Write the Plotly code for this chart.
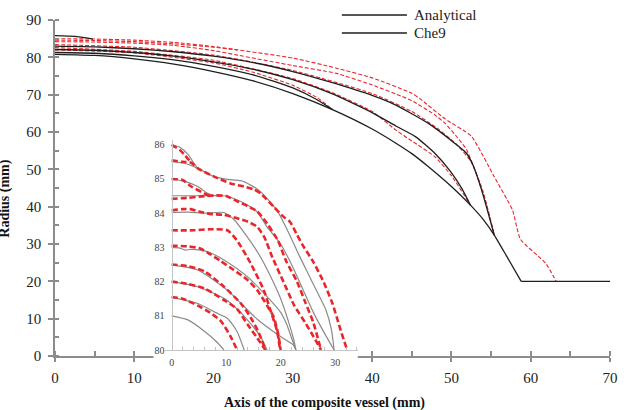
import plotly.graph_objects as go

FONT = "Liberation Serif, Times New Roman, serif"

# ---------------- main chart data (Axis x [mm], Radius y [mm]) ----------------
# Analytical (black, solid)
ana_env_x = [0, 5, 10, 15, 20, 25, 30, 35, 40, 43, 45, 47.1, 50, 52.4, 54, 55.4, 57, 58.8]
ana_env_y = [80.8, 80.5, 79.6, 78.2, 76.2, 73.7, 70.3, 66, 60.8, 57, 54.2, 50.7, 45.4, 40.4, 36.6, 32.4, 26.6, 20]
ana_flat_x = [58.8, 70]
ana_flat_y = [20, 20]
ana_b2_x = [0, 5, 10, 15, 20, 25, 30, 33, 35]
ana_b2_y = [81.3, 81.1, 80.4, 79.3, 77.6, 75.3, 71.8, 68.7, 66]
ana_b3_x = [0, 5, 10, 15, 20, 25, 30, 35, 40, 43, 45.5, 47.9, 49.9, 51.3, 52.4]
ana_b3_y = [82.1, 81.9, 81.3, 80.3, 78.8, 76.8, 74.0, 70.2, 65.2, 61.6, 58.7, 54.3, 49.4, 44.9, 40.4]
ana_b4_x = [0, 5, 10, 15, 20, 25, 30, 35, 40, 43, 47.1, 50.4, 51.9, 52.7, 53.8, 55.4]
ana_b4_y = [83.0, 82.8, 82.3, 81.5, 80.3, 78.6, 76.2, 73.2, 69.8, 67.2, 62.3, 57, 54.3, 51.2, 44.5, 32.4]
ana_b5_x = [0, 2.5, 4.8]
ana_b5_y = [85.8, 85.6, 84.9]

# Che9 (red, dashed)
che_r1_x = [0, 5, 10, 15, 20, 23, 30, 35.5, 40, 45, 46.1, 49.2, 52.5, 55.4, 57.7, 58.7, 61.9, 63.2]
che_r1_y = [84.6, 84.5, 84.2, 83.6, 82.7, 82.0, 79.8, 77.1, 74.5, 70.4, 68.8, 63.5, 58.9, 48, 39.1, 31.3, 24.8, 20]
che_r2_x = [0, 5, 10, 15, 20, 23, 30, 35.5, 40, 43.8, 45, 47.9, 49.2, 50.5, 51.9, 53.1, 54.3, 55.4]
che_r2_y = [84.2, 84.1, 83.8, 83.2, 81.8, 80.6, 77.8, 75.7, 72.6, 69.5, 68.4, 64.6, 62.3, 59.2, 55.3, 49.0, 41.5, 32.4]
che_r3_x = [0, 10, 20, 30, 40, 45, 48, 50.5, 52.5, 54, 55.4]
che_r3_y = [83.4, 82.7, 80.6, 76.5, 70.3, 65.5, 61.3, 57.0, 52.0, 44.0, 32.4]
che_r4_x = [0, 10, 20, 30, 35, 40, 43, 45, 47.9, 50, 52.4]
che_r4_y = [82.6, 81.6, 79.2, 74.3, 70.5, 65.5, 60.5, 57.6, 53.4, 48.3, 40.4]
che_r5_x = [0, 10, 20, 25, 30, 33, 35]
che_r5_y = [82.0, 81.2, 78.5, 76.0, 72.5, 69.3, 66]
che_r6_x = [0, 5, 10, 15, 20, 23]
che_r6_y = [85.0, 84.9, 84.6, 84.0, 82.9, 82.0]

# ---------------- inset data (zoom of the apex region) ----------------
ins_g86_x = [0, 1.5, 3, 4, 4.8]
ins_g86_y = [86, 85.93, 85.72, 85.48, 85.31]
ins_g855_x = [0, 2.4, 4.8, 7.8, 10.2, 12.7, 14.5, 16.3, 19.3, 21.7, 23.5, 25.9, 28.3, 29.3, 29.8]
ins_g855_y = [85.51, 85.46, 85.31, 85.07, 84.99, 84.95, 84.82, 84.63, 84.09, 83.35, 82.73, 81.95, 81.17, 80.6, 80]
ins_g85_x = [0, 2.4, 4.8, 6.6, 7.8]
ins_g85_y = [85, 84.93, 84.78, 84.58, 84.51]
ins_g845_x = [0, 4.8, 9.6, 11.4, 13.9, 15.7, 17.5, 19.9, 22, 24, 26, 28, 29.8]
ins_g845_y = [84.51, 84.51, 84.51, 84.43, 84.24, 84.04, 83.6, 83.12, 82.5, 81.8, 81.1, 80.5, 80]
ins_g84_x = [0, 3, 6, 9.6, 11.5, 13.9, 16, 18, 20, 21.5, 22.4, 22.8]
ins_g84_y = [84.02, 84.03, 84.0, 84.02, 83.8, 83.3, 82.8, 82.2, 81.5, 80.8, 80.3, 80]
ins_g83_x = [0, 1.5, 2.5, 3.5, 5, 7, 9.6, 13.9, 17.5, 20, 21.1, 22, 22.8]
ins_g83_y = [83, 82.98, 82.92, 82.94, 82.93, 82.85, 82.63, 82.14, 81.56, 81.1, 80.75, 80.35, 80]
ins_g825_x = [0, 4.8, 10.2, 15.7, 19.9, 22.3, 22.8]
ins_g825_y = [82.49, 82.34, 81.75, 80.9, 80.4, 80.15, 80]
ins_g82_x = [0, 4.8, 9.6, 12, 13.9, 16.3, 17.5]
ins_g82_y = [82, 81.85, 81.51, 81.2, 80.88, 80.39, 80]
ins_g815_x = [0, 4.8, 8, 10.2, 12, 13.3]
ins_g815_y = [81.54, 81.36, 81.1, 80.93, 80.54, 80]
ins_g81_x = [0, 3, 6, 8.2, 9.6]
ins_g81_y = [81, 80.88, 80.55, 80.25, 80]

ins_r86_x = [0, 1.5, 2.5, 3.5]
ins_r86_y = [86, 85.85, 85.68, 85.5]
ins_r8555_x = [0, 2, 3.5, 4.8, 7.8, 10.8, 13.3, 15, 16.3, 18.7, 20.5, 21.7, 22.9, 24.1, 25.9, 27.7, 29.5, 31, 32.2]
ins_r8555_y = [85.55, 85.5, 85.48, 85.31, 85.07, 84.87, 84.78, 84.7, 84.58, 84.19, 83.9, 83.75, 83.4, 83.05, 82.6, 82.05, 81.36, 80.58, 80]
ins_r85_x = [0, 2, 3.6, 6, 7.2]
ins_r85_y = [85, 84.97, 84.78, 84.58, 84.48]
ins_r844_x = [0, 3, 6, 8, 10, 12, 14, 15.7, 17.5, 19.5, 21, 23, 24.5, 26, 27.4]
ins_r844_y = [84.42, 84.45, 84.5, 84.52, 84.5, 84.35, 84.2, 84.05, 83.7, 83.2, 82.6, 82.0, 81.4, 80.8, 80]
ins_r841_x = [0, 2, 3.5, 5, 7, 9.6, 12, 14, 15.7, 17, 18.5, 20.5, 22.5, 24.5, 26, 27.4]
ins_r841_y = [84.08, 84.12, 84.12, 84.05, 83.98, 83.95, 83.85, 83.75, 83.6, 83.3, 82.7, 82.0, 81.3, 80.8, 80.4, 80]
ins_r835_x = [0, 4, 7, 10.2, 12, 14.5, 16.9, 18.1, 19.3, 19.9]
ins_r835_y = [83.5, 83.5, 83.53, 83.5, 83.2, 82.53, 81.75, 81.17, 80.58, 80]
ins_r8305_x = [0, 3, 5, 6.6, 9, 11.4, 13.9, 15.7, 17.5, 18.7, 19.5, 20]
ins_r8305_y = [83.05, 83.03, 82.98, 82.85, 82.6, 82.34, 82.05, 81.75, 81.3, 80.97, 80.5, 80]
ins_r825_x = [0, 3, 6, 9.6, 12.7, 14.5, 16, 17.2]
ins_r825_y = [82.5, 82.45, 82.3, 81.85, 81.36, 80.95, 80.5, 80]
ins_r82_x = [0, 3, 6, 9.6, 12, 13.9, 15.7, 17.2]
ins_r82_y = [82, 81.93, 81.8, 81.46, 81.2, 80.75, 80.35, 80]
ins_r8155_x = [0, 2, 4.8, 7, 9, 10.8, 12]
ins_r8155_y = [81.55, 81.5, 81.3, 81.1, 80.85, 80.4, 80]

legend_names = ["Analytical", "Che9"]
x_title = "Axis of the composite vessel (mm)"
y_title = "Radius (mm)"

main_black = [(ana_env_x, ana_env_y), (ana_flat_x, ana_flat_y), (ana_b2_x, ana_b2_y),
              (ana_b3_x, ana_b3_y), (ana_b4_x, ana_b4_y), (ana_b5_x, ana_b5_y)]
main_red = [(che_r1_x, che_r1_y), (che_r2_x, che_r2_y), (che_r3_x, che_r3_y),
            (che_r4_x, che_r4_y), (che_r5_x, che_r5_y), (che_r6_x, che_r6_y)]
inset_gray = [(ins_g86_x, ins_g86_y), (ins_g855_x, ins_g855_y), (ins_g85_x, ins_g85_y),
              (ins_g845_x, ins_g845_y), (ins_g84_x, ins_g84_y), (ins_g83_x, ins_g83_y),
              (ins_g825_x, ins_g825_y), (ins_g82_x, ins_g82_y), (ins_g815_x, ins_g815_y),
              (ins_g81_x, ins_g81_y)]
inset_red = [(ins_r86_x, ins_r86_y), (ins_r8555_x, ins_r8555_y), (ins_r85_x, ins_r85_y),
             (ins_r844_x, ins_r844_y), (ins_r841_x, ins_r841_y), (ins_r835_x, ins_r835_y),
             (ins_r8305_x, ins_r8305_y), (ins_r825_x, ins_r825_y), (ins_r82_x, ins_r82_y),
             (ins_r8155_x, ins_r8155_y)]

BLACK = "#1e1e1e"
RED = "#e8262b"
GRAY = "#8a8a8a"
AXC = "#8c8c8c"

fig = go.Figure()

for xs, ys in main_red:
    fig.add_trace(go.Scatter(x=xs, y=ys, mode="lines", name="Che9", showlegend=False,
                             line=dict(color=RED, width=1.1, dash="4px,2px", shape="spline", smoothing=0.5),
                             xaxis="x", yaxis="y"))
for xs, ys in main_black:
    fig.add_trace(go.Scatter(x=xs, y=ys, mode="lines", name="Analytical", showlegend=False,
                             line=dict(color=BLACK, width=1.3, shape="spline", smoothing=0.5),
                             xaxis="x", yaxis="y"))

# cover subplot (white panel behind the inset)
fig.add_trace(go.Scatter(x=[None], y=[None], mode="lines", showlegend=False, hoverinfo="skip",
                         xaxis="x2", yaxis="y2"))

for xs, ys in inset_gray:
    fig.add_trace(go.Scatter(x=xs, y=ys, mode="lines", name="Analytical", showlegend=False,
                             line=dict(color=GRAY, width=1.2, shape="spline", smoothing=0.6),
                             xaxis="x3", yaxis="y3"))
for xs, ys in inset_red:
    fig.add_trace(go.Scatter(x=xs, y=ys, mode="lines", name="Che9", showlegend=False,
                             line=dict(color=RED, width=2.6, dash="6px,3px", shape="spline", smoothing=0.6),
                             xaxis="x3", yaxis="y3"))

W, H = 626, 410
ML, MR, MT, MB = 55, 8, 20, 20
PW, PH = W - ML - MR, H - MT - MB


def px2x(px):
    return (px - ML) / PW


def py2y(py):
    return (H - MB - py) / PH


tickfont = dict(family=FONT, size=15, color="#222")
inset_font = dict(family=FONT, size=10, color="#444")

fig.update_layout(
    width=W, height=H,
    margin=dict(l=ML, r=MR, t=MT, b=MB),
    paper_bgcolor="white", plot_bgcolor="white",
    showlegend=False,
    font=dict(family=FONT, color="#222"),
    xaxis=dict(domain=[0, 1], range=[0, 70], anchor="y",
               showline=True, linecolor=AXC, linewidth=1.5,
               ticks="outside", ticklen=4, tickwidth=1.5, tickcolor=AXC,
               tick0=0, dtick=10, tickfont=tickfont, ticklabelstandoff=3,
               minor=dict(ticks="inside", dtick=5, ticklen=5, tickwidth=1.5, tickcolor=AXC),
               showgrid=False, zeroline=False),
    yaxis=dict(domain=[py2y(356), 1], range=[0, 90], anchor="x",
               showline=True, linecolor=AXC, linewidth=1.5,
               ticks="outside", ticklen=5, tickwidth=1.5, tickcolor=AXC,
               tick0=0, dtick=10, tickfont=tickfont, ticklabelstandoff=4,
               minor=dict(ticks="inside", dtick=5, ticklen=4, tickwidth=1.5, tickcolor=AXC),
               showgrid=False, zeroline=False),
    xaxis2=dict(domain=[px2x(155), px2x(362)], range=[0, 1], anchor="y2", visible=False, fixedrange=True),
    yaxis2=dict(domain=[py2y(368), py2y(135)], range=[0, 1], anchor="x2", visible=False, fixedrange=True),
    xaxis3=dict(domain=[px2x(166.7), px2x(362)], range=[-1.2, 34.12], anchor="y3",
                showline=True, linecolor="#c4c4c4", linewidth=1,
                tickvals=[0, 10, 20, 30], ticks="", tickfont=inset_font, ticklabelstandoff=3,
                minor=dict(ticks="inside", tickvals=[2, 4, 6, 8, 12, 14, 16, 18, 22, 24, 26, 28, 32, 34],
                           ticklen=3, tickcolor="#c4c4c4"),
                showgrid=False, zeroline=False),
    yaxis3=dict(domain=[py2y(350), py2y(140)], range=[80, 86.14], anchor="free", position=px2x(173.3),
                showline=True, linecolor="#c4c4c4", linewidth=1,
                dtick=1, tick0=80, ticks="", tickfont=inset_font, ticklabelstandoff=5,
                showgrid=False, zeroline=False),
    shapes=[
        dict(type="rect", xref="x2", yref="y2", x0=0, x1=1, y0=0, y1=1,
             fillcolor="white", line=dict(width=0), layer="below"),
        dict(type="line", xref="paper", yref="paper", x0=px2x(346), x1=px2x(412),
             y0=py2y(15), y1=py2y(15), line=dict(color=BLACK, width=1.5)),
        dict(type="line", xref="paper", yref="paper", x0=px2x(346), x1=px2x(412),
             y0=py2y(33), y1=py2y(33), line=dict(color=BLACK, width=1.5)),
    ],
    annotations=[
        dict(text=legend_names[0], xref="paper", yref="paper", x=px2x(417), y=py2y(15),
             xanchor="left", yanchor="middle", showarrow=False, font=dict(family=FONT, size=15, color="#222")),
        dict(text=legend_names[1], xref="paper", yref="paper", x=px2x(417), y=py2y(33),
             xanchor="left", yanchor="middle", showarrow=False, font=dict(family=FONT, size=15, color="#222")),
        dict(text="<b>" + x_title + "</b>", xref="paper", yref="paper", x=px2x(328), y=py2y(403),
             xanchor="center", yanchor="middle", showarrow=False, font=dict(family=FONT, size=14, color="#111")),
        dict(text="<b>" + y_title + "</b>", xref="paper", yref="paper", x=px2x(4), y=py2y(198),
             xanchor="center", yanchor="middle", textangle=-90, showarrow=False,
             font=dict(family=FONT, size=14, color="#111")),
    ],
)

fig.write_html("out.html")
